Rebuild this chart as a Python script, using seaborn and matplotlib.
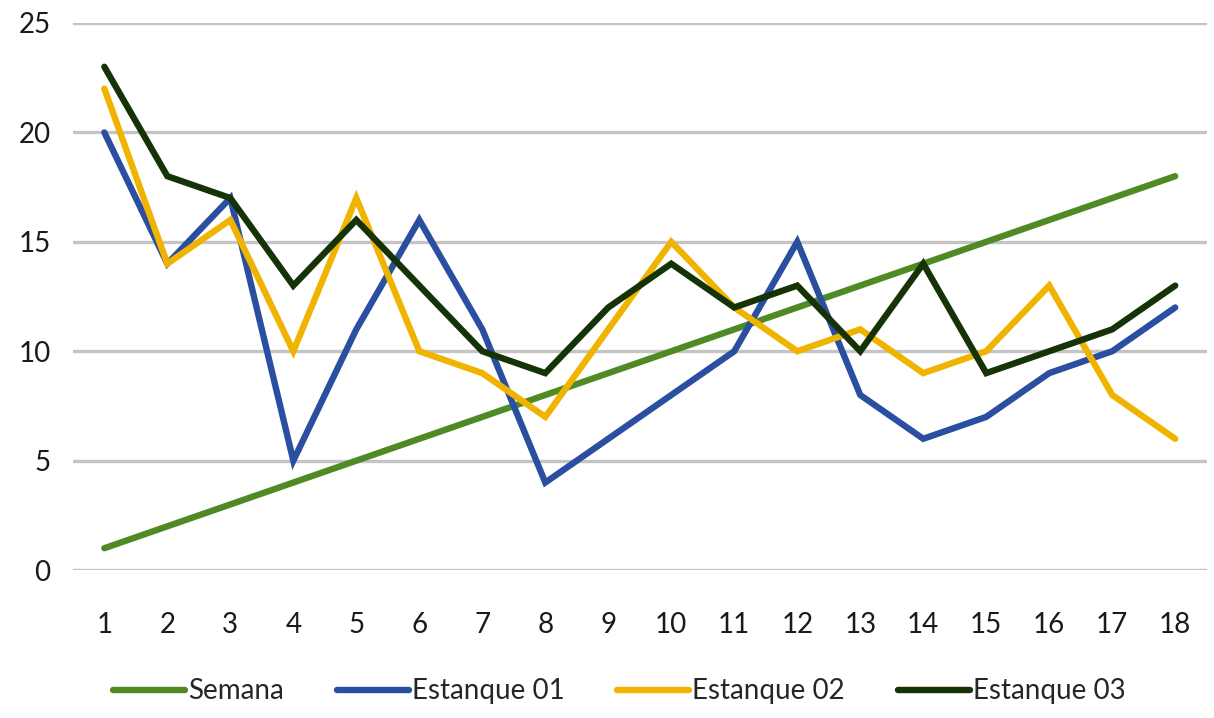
import pandas as pd
import matplotlib
matplotlib.use('Agg')
import matplotlib.pyplot as plt
import seaborn as sns

# data
weeks = list(range(1, 19))
semana = list(range(1, 19))
estanque_01 = [20, 14, 17, 5, 11, 16, 11, 4, 6, 8, 10, 15, 8, 6, 7, 9, 10, 12]
estanque_02 = [22, 14, 16, 10, 17, 10, 9, 7, 11, 15, 12, 10, 11, 9, 10, 13, 8, 6]
estanque_03 = [23, 18, 17, 13, 16, 13, 10, 9, 12, 14, 12, 13, 10, 14, 9, 10, 11, 13]
series_names = ['Semana', 'Estanque 01', 'Estanque 02', 'Estanque 03']
y_ticks = [0, 5, 10, 15, 20, 25]

colors = ['#4F8A24', '#2A4FA0', '#F0B400', '#163308']

sns.set_theme(style='white')
plt.rcParams['font.family'] = ['Lato', 'DejaVu Sans']

df = pd.DataFrame({
    'x': weeks * 4,
    'y': semana + estanque_01 + estanque_02 + estanque_03,
    'serie': [n for n in series_names for _ in weeks],
})

fig = plt.figure(figsize=(12.14, 7.18), dpi=100)
ax = fig.add_axes([0.060, 0.206, 0.934, 0.762])

sns.lineplot(data=df, x='x', y='y', hue='serie', hue_order=series_names,
             palette=colors, linewidth=4.6, ax=ax, legend=True,
             solid_capstyle='round', solid_joinstyle='miter')

ax.set_xlim(0.5, 18.5)
ax.set_ylim(0, 25)
ax.set_xticks(weeks)
ax.set_xticklabels([str(w) for w in weeks])
ax.set_yticks(y_ticks)
ax.set_xlabel('')
ax.set_ylabel('')
ax.yaxis.grid(True, color='#C4C4C4', linewidth=2.4)
ax.set_axisbelow(True)
for s in ax.spines.values():
    s.set_visible(False)
ax.tick_params(axis='both', length=0, labelsize=20, colors='#1a1a1a')
ax.tick_params(axis='x', pad=30)
ax.tick_params(axis='y', pad=16)
for t in ax.get_yticklabels():
    t.set_clip_on(False)

handles, labels = ax.get_legend_handles_labels()
ax.get_legend().remove()
fig.legend(handles, labels, loc='lower center', bbox_to_anchor=(0.51, -0.016),
           ncol=4, frameon=False, fontsize=20, handlelength=2.6,
           handletextpad=0.1, columnspacing=1.9)

fig.savefig('out.png', dpi=100)
